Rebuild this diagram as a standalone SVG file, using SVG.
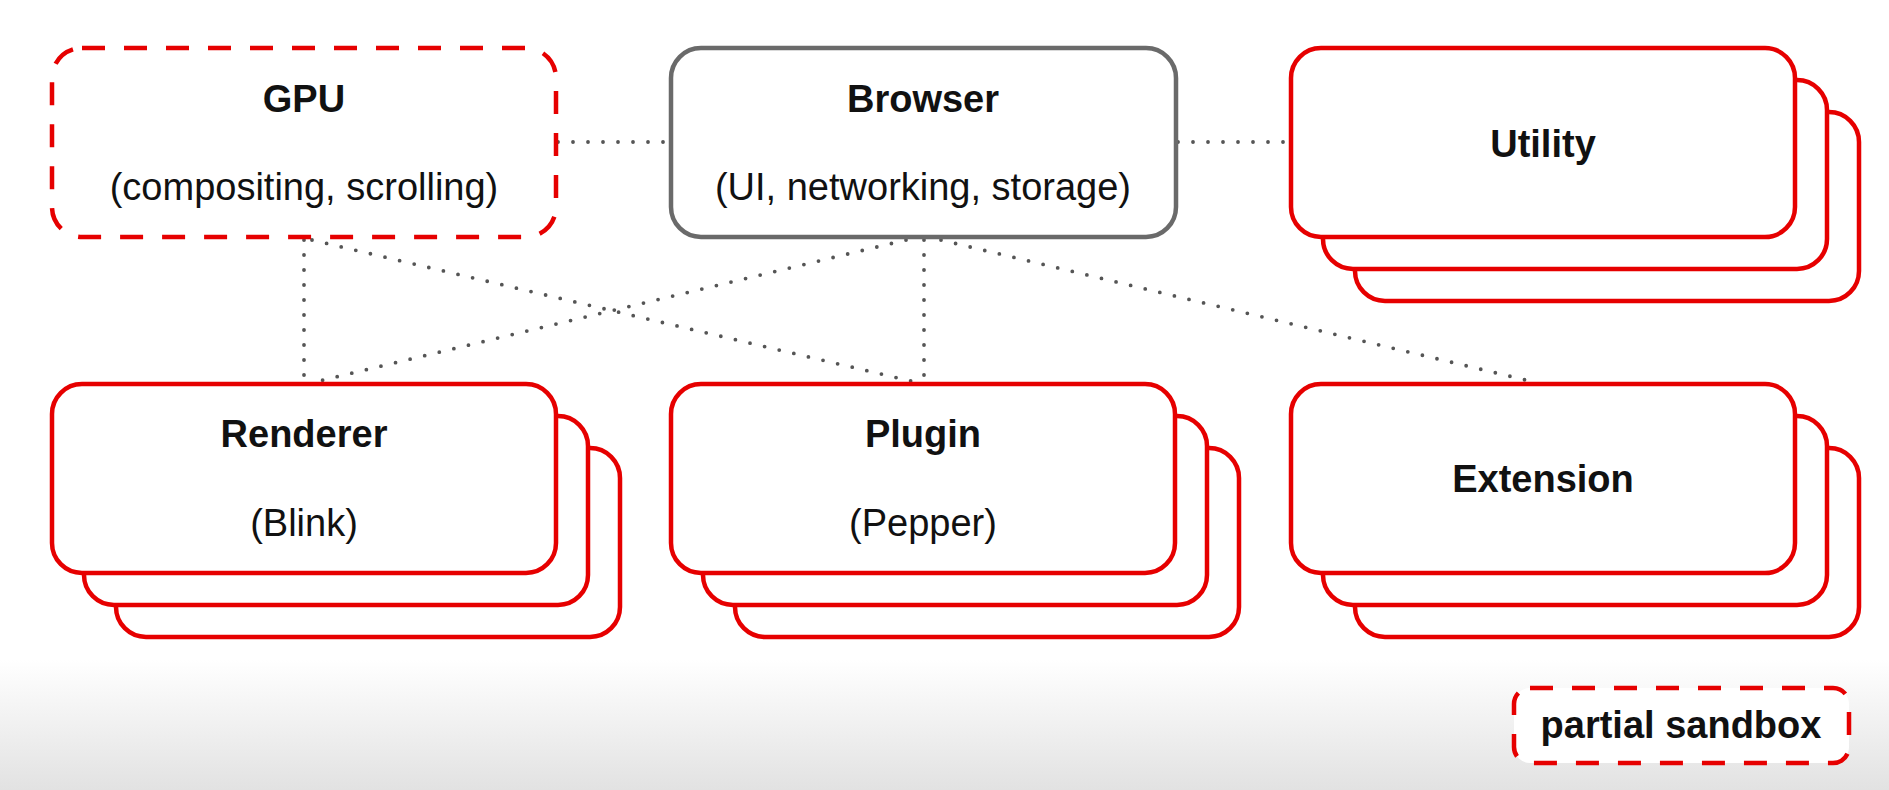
<svg xmlns="http://www.w3.org/2000/svg" width="1889" height="790" viewBox="0 0 1889 790">
<defs>
<linearGradient id="bg" x1="0" y1="0" x2="0" y2="1">
<stop offset="0" stop-color="#ffffff"/>
<stop offset="1" stop-color="#e2e2e2"/>
</linearGradient>
</defs>
<style>
.box{fill:#fff;stroke:#e60000;stroke-width:4.5}
.dash{fill:#fff;stroke:#e60000;stroke-width:4.5;stroke-dasharray:23 19}
.gray{fill:#fff;stroke:#6a6a6a;stroke-width:4.5}
.conn{fill:none;stroke:#555;stroke-width:3.8;stroke-dasharray:0 15;stroke-linecap:round}
.t{font-family:"Liberation Sans",Arial,sans-serif;font-size:38px;fill:#111;text-anchor:middle}
.b{font-weight:bold}
</style>
<rect x="0" y="0" width="1889" height="790" fill="#fff"/>
<rect x="0" y="660" width="1889" height="130" fill="url(#bg)"/>
<g id="connectors">
<line class="conn" x1="558" y1="142" x2="670" y2="142"/>
<line class="conn" x1="1178" y1="142" x2="1290" y2="142"/>
<line class="conn" x1="304" y1="240" x2="304" y2="382"/>
<line class="conn" x1="312" y1="240" x2="915" y2="382"/>
<line class="conn" x1="906" y1="240" x2="315" y2="382"/>
<line class="conn" x1="924" y1="240" x2="924" y2="382"/>
<line class="conn" x1="941" y1="240" x2="1534" y2="382"/>
</g>
<g id="gpu">
<rect class="dash" x="52" y="48" width="504" height="189" rx="30"/>
<text class="t b" x="304" y="112">GPU</text>
<text class="t" x="304" y="200">(compositing, scrolling)</text>
</g>
<g id="browser">
<rect class="gray" x="671" y="48" width="505" height="189" rx="30"/>
<text class="t b" x="923" y="112">Browser</text>
<text class="t" x="923" y="200">(UI, networking, storage)</text>
</g>
<g id="utility">
<rect class="box" x="1355" y="112" width="504" height="189" rx="30"/>
<rect class="box" x="1323" y="80" width="504" height="189" rx="30"/>
<rect class="box" x="1291" y="48" width="504" height="189" rx="30"/>
<text class="t b" x="1543" y="157">Utility</text>
</g>
<g id="renderer">
<rect class="box" x="116" y="448" width="504" height="189" rx="30"/>
<rect class="box" x="84" y="416" width="504" height="189" rx="30"/>
<rect class="box" x="52" y="384" width="504" height="189" rx="30"/>
<text class="t b" x="304" y="447">Renderer</text>
<text class="t" x="304" y="536">(Blink)</text>
</g>
<g id="plugin">
<rect class="box" x="735" y="448" width="504" height="189" rx="30"/>
<rect class="box" x="703" y="416" width="504" height="189" rx="30"/>
<rect class="box" x="671" y="384" width="504" height="189" rx="30"/>
<text class="t b" x="923" y="447">Plugin</text>
<text class="t" x="923" y="536">(Pepper)</text>
</g>
<g id="extension">
<rect class="box" x="1355" y="448" width="504" height="189" rx="30"/>
<rect class="box" x="1323" y="416" width="504" height="189" rx="30"/>
<rect class="box" x="1291" y="384" width="504" height="189" rx="30"/>
<text class="t b" x="1543" y="492">Extension</text>
</g>
<g id="legend">
<rect class="dash" x="1514" y="688" width="335" height="75" rx="16" fill="none"/>
<text class="t b" x="1681" y="738">partial sandbox</text>
</g>
</svg>
